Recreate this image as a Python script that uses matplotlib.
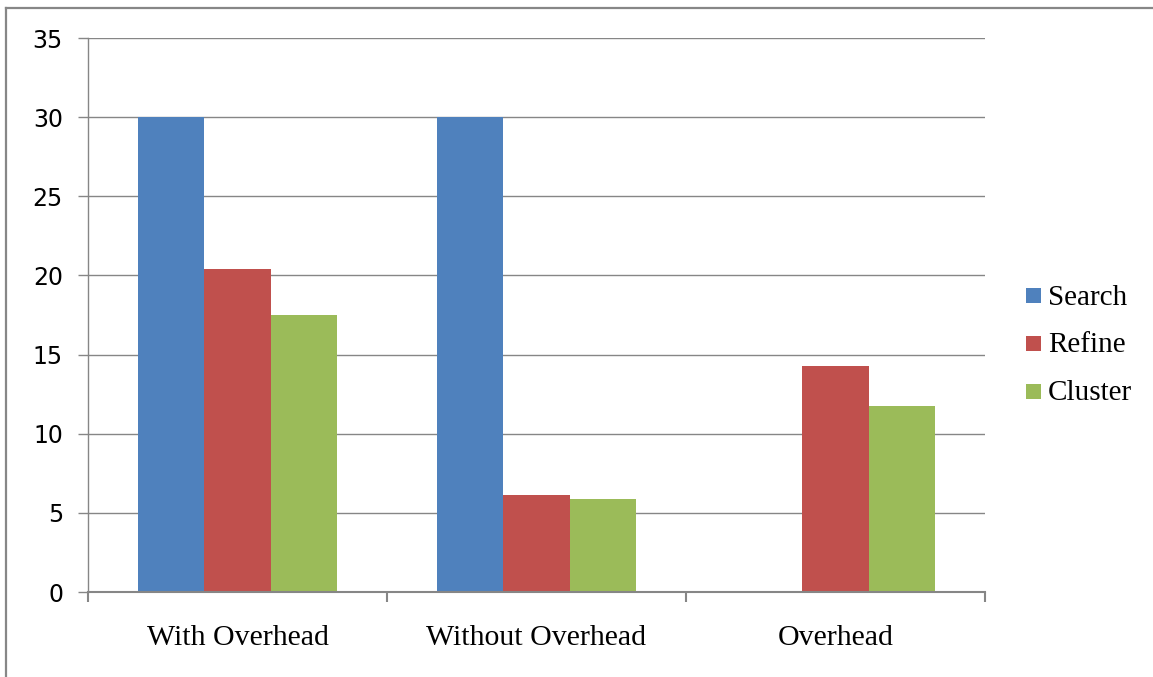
import matplotlib
matplotlib.use('Agg')
from matplotlib import pyplot as plt
from matplotlib.patches import Rectangle
from matplotlib.lines import Line2D
import numpy as np

# data
categories = ['With Overhead', 'Without Overhead', 'Overhead']
series = ['Search', 'Refine', 'Cluster']
search = [30.0, 30.0, 0.0]
refine = [20.4, 6.1, 14.25]
cluster = [17.5, 5.85, 11.75]
colors = ['#4F81BD', '#C0504D', '#9BBB59']

W, H = 1153, 677
fig = plt.figure(figsize=(W / 100, H / 100), dpi=100)
ax = fig.add_axes([88 / W, 1 - 592 / H, (985 - 88) / W, (592 - 38) / H])

x = np.arange(len(categories))
bw = 0.221
for i, vals in enumerate([search, refine, cluster]):
    ax.bar(x + (i - 1) * bw, vals, bw, color=colors[i], zorder=3, linewidth=0)

ax.set_xlim(-0.5, 2.5)
ax.set_ylim(0, 35)
ax.set_yticks(range(0, 36, 5))
ax.yaxis.grid(True, color='#868686', linewidth=1.0, zorder=0)

# category ticks sit between the groups
ax.set_xticks([-0.5, 0.5, 1.5, 2.5])
ax.set_xticklabels([])
ax.set_xticks(x, minor=True)
ax.set_xticklabels(categories, minor=True, family='Liberation Serif', fontsize=21.5)
ax.tick_params(axis='x', which='minor', length=0, pad=24)
ax.tick_params(axis='x', which='major', length=7, width=1.5, color='#868686', direction='out')
ax.tick_params(axis='y', length=7, width=1.0, color='#868686', direction='out',
               labelsize=17, pad=11)
for lab in ax.get_yticklabels():
    lab.set_family('DejaVu Sans')

for s in ['top', 'right']:
    ax.spines[s].set_visible(False)
ax.spines['left'].set_color('#868686')
ax.spines['left'].set_linewidth(1.0)
ax.spines['bottom'].set_color('#868686')
ax.spines['bottom'].set_linewidth(1.5)
ax.spines['bottom'].set_zorder(4)

# legend drawn by hand on the right
for i, name in enumerate(series):
    yc = 296 + i * 47.5
    fig.patches.append(Rectangle((1026 / W, 1 - (yc + 7.5) / H), 15 / W, 15 / H,
                                 transform=fig.transFigure, color=colors[i], linewidth=0))
    fig.text(1048 / W, 1 - (yc + 2) / H, name, family='Liberation Serif', fontsize=21,
             va='center', ha='left')

# frame around the chart
frame = '#878787'
fig.lines.append(Line2D([6 / W, 6 / W], [0, 1 - 8 / H], transform=fig.transFigure,
                        color=frame, linewidth=1.6))
fig.lines.append(Line2D([6 / W, 1], [1 - 8 / H, 1 - 8 / H], transform=fig.transFigure,
                        color=frame, linewidth=1.6))

fig.savefig('out.png', dpi=100)
